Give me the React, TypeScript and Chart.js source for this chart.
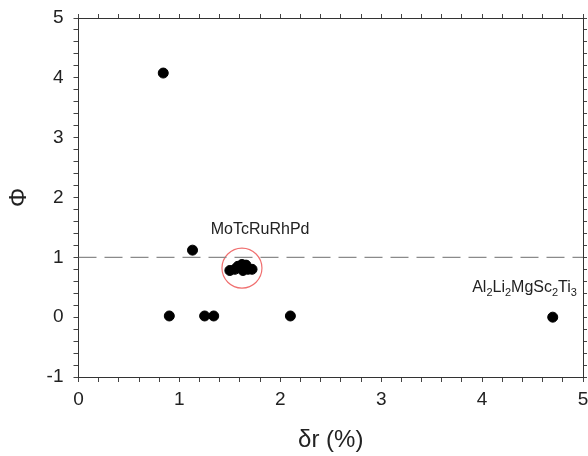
import React, { useEffect, useRef } from "react";
import { Chart, registerables } from "chart.js";

Chart.register(...registerables);

// Data
const pointsX = [0.84, 1.13, 0.90, 1.25, 1.34, 2.10, 4.70, 1.50, 1.55, 1.58, 1.62, 1.66, 1.68, 1.72, 1.63];
const pointsY = [4.08, 1.12, 0.02, 0.02, 0.02, 0.02, 0.00, 0.78, 0.80, 0.85, 0.88, 0.87, 0.80, 0.80, 0.78];
const refLineY = 1;
const xRange = [0, 5];
const yRange = [-1, 5];
const highlight = { x: 1.62, y: 0.82 };
const label1 = { text: "MoTcRuRhPd", x: 1.80, y: 1.47 };
const label2Parts = [
  ["Al", false], ["2", true], ["Li", false], ["2", true], ["MgSc", false], ["2", true], ["Ti", false], ["3", true],
] as [string, boolean][];
const label2Pos = { x: 4.94, y: 0.42 };
const xTitle = "δr (%)";
const yTitle = "Φ";

const FONT = "'Liberation Sans', Arial, sans-serif";
const TXT = "#222";
const AXIS = "#333";

const labelsPlugin = {
  id: "labels",
  afterDatasetsDraw(chart: any) {
    const { ctx, scales } = chart;
    const xs = scales.x, ys = scales.y;
    ctx.save();
    ctx.fillStyle = TXT;
    ctx.font = `16px ${FONT}`;
    ctx.textAlign = "center";
    ctx.textBaseline = "middle";
    ctx.fillText(label1.text, xs.getPixelForValue(label1.x), ys.getPixelForValue(label1.y));
    // subscript label
    const big = `16px ${FONT}`;
    const small = `11px ${FONT}`;
    let total = 0;
    for (const [t, sub] of label2Parts) {
      ctx.font = sub ? small : big;
      total += ctx.measureText(t).width;
    }
    let x = xs.getPixelForValue(label2Pos.x) - total;
    const base = ys.getPixelForValue(label2Pos.y);
    ctx.textAlign = "left";
    ctx.textBaseline = "alphabetic";
    for (const [t, sub] of label2Parts) {
      ctx.font = sub ? small : big;
      ctx.fillText(t, x, sub ? base + 4 : base);
      x += ctx.measureText(t).width;
    }
    ctx.restore();
  },
};

const xTicks = () => {
  const t = [];
  for (let i = 0; i <= 25; i++) t.push({ value: Math.round(i * 0.2 * 10) / 10 });
  return t;
};
const yTicks = () => {
  const t = [];
  for (let i = 0; i <= 30; i++) t.push({ value: Math.round((-1 + i * 0.2) * 10) / 10 });
  return t;
};
const intLabel = (v: any) => (Number.isInteger(Math.round(v * 1000) / 1000) ? String(Math.round(v)) : "");

export default function App() {
  const ref = useRef<HTMLCanvasElement>(null);
  useEffect(() => {
    document.body.style.margin = "0";
    const scatter = pointsX.map((x, i) => ({ x, y: pointsY[i] }));
    const chart = new Chart(ref.current!, {
      type: "scatter",
      data: {
        datasets: [
          {
            type: "line",
            data: [{ x: xRange[0], y: refLineY }, { x: xRange[1], y: refLineY }],
            borderColor: "#8a8a8a",
            borderWidth: 1.3,
            borderDash: [18, 8],
            pointRadius: 0,
            fill: false,
          } as any,
          {
            data: scatter,
            backgroundColor: "#000",
            borderColor: "#000",
            pointRadius: 5,
            pointHoverRadius: 5,
          },
          {
            data: [highlight],
            backgroundColor: "rgba(0,0,0,0)",
            borderColor: "#f07070",
            borderWidth: 1.2,
            pointRadius: 20,
            pointHoverRadius: 20,
          },
        ],
      },
      options: {
        responsive: false,
        animation: false,
        events: [],
        layout: { autoPadding: false, padding: 0 },
        plugins: { legend: { display: false }, tooltip: { enabled: false } },
        scales: {
          x: {
            type: "linear",
            min: xRange[0],
            max: xRange[1],
            afterFit(scale: any) {
              scale.height = 79;
              scale.paddingLeft = 0;
              scale.paddingRight = 0;
            },
            afterBuildTicks(scale: any) {
              scale.ticks = xTicks();
            },
            border: { display: true, color: AXIS, width: 1 },
            grid: { drawOnChartArea: false, tickLength: 5, tickColor: "#444" },
            ticks: {
              autoSkip: false,
              maxRotation: 0,
              padding: 6,
              color: TXT,
              font: { family: FONT, size: 19 },
              callback: intLabel,
            },
            title: {
              display: true,
              text: xTitle,
              color: TXT,
              font: { family: FONT, size: 24 },
              padding: { top: 0, bottom: 1 },
            },
          },
          x2: {
            type: "linear",
            position: "top",
            min: xRange[0],
            max: xRange[1],
            afterFit(scale: any) {
              scale.height = 18;
              scale.paddingLeft = 0;
              scale.paddingRight = 0;
            },
            afterBuildTicks(scale: any) {
              scale.ticks = xTicks();
            },
            border: { display: true, color: AXIS, width: 1 },
            grid: { drawOnChartArea: false, tickLength: 4, tickColor: "#444" },
            ticks: { display: false },
          },
          y: {
            type: "linear",
            min: yRange[0],
            max: yRange[1],
            afterFit(scale: any) {
              scale.width = 78.5;
              scale.paddingTop = 0;
              scale.paddingBottom = 0;
            },
            afterBuildTicks(scale: any) {
              scale.ticks = yTicks();
            },
            border: { display: true, color: AXIS, width: 1 },
            grid: { drawOnChartArea: false, tickLength: 5, tickColor: "#444" },
            ticks: {
              autoSkip: false,
              padding: 10,
              color: TXT,
              font: { family: FONT, size: 19 },
              callback: intLabel,
            },
            title: {
              display: true,
              text: yTitle,
              color: TXT,
              font: { family: FONT, size: 24 },
              padding: { top: 5, bottom: 0 },
            },
          },
          y2: {
            type: "linear",
            position: "right",
            min: yRange[0],
            max: yRange[1],
            afterFit(scale: any) {
              scale.width = 5;
              scale.paddingTop = 0;
              scale.paddingBottom = 0;
            },
            afterBuildTicks(scale: any) {
              scale.ticks = yTicks();
            },
            border: { display: true, color: AXIS, width: 1 },
            grid: { drawOnChartArea: false, tickLength: 4, tickColor: "#444" },
            ticks: { display: false },
          },
        },
      },
      plugins: [labelsPlugin],
    });
    return () => chart.destroy();
  }, []);
  return (
    <div style={{ position: "absolute", left: 0, top: 0, width: 588, height: 456 }}>
      <canvas ref={ref} width={588} height={456} />
    </div>
  );
}
